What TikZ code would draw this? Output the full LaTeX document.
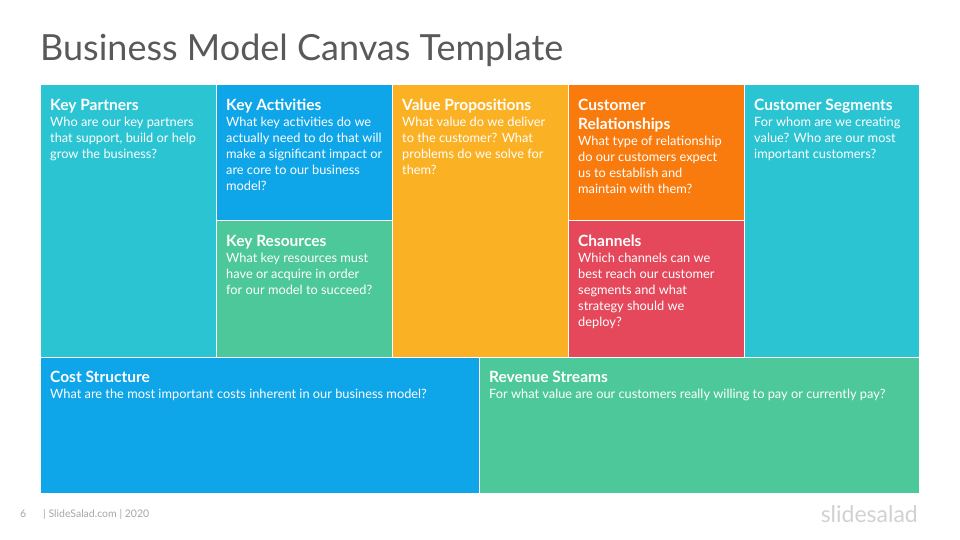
\documentclass[tikz,border=0pt]{standalone}
\usepackage{fontspec}
\setmainfont{Lato}
\definecolor{cteal}{HTML}{2BC4D2}
\definecolor{cblue}{HTML}{0EA5E9}
\definecolor{cgreen}{HTML}{4DC89A}
\definecolor{cyel}{HTML}{FBB124}
\definecolor{corange}{HTML}{F97B0E}
\definecolor{cred}{HTML}{E5485A}
\definecolor{ctitle}{HTML}{595959}
\definecolor{cgrey}{HTML}{A6A6A6}
\tikzset{
  cell/.style={draw=white, line width=1pt},
  lab/.style={anchor=north west, text=white, align=left, inner sep=0pt, font=\fontsize{12.8}{16}\selectfont},
}
\newcommand{\hf}{\fontsize{15.5}{19}\selectfont\bfseries}
\begin{document}
\begin{tikzpicture}[x=1pt,y=-1pt]
\useasboundingbox (0,0) rectangle (960,540);
\node[anchor=west, inner sep=0pt, text=ctitle, font=\fontsize{36}{38}\selectfont] (title) at (40,50) {Business Model Canvas Template};
\fill[cell,fill=cteal] (40,85) rectangle (216,357);
\fill[cell,fill=cblue] (216,85) rectangle (392,220);
\fill[cell,fill=cgreen] (216,220) rectangle (392,357);
\fill[cell,fill=cyel] (392,85) rectangle (568,357);
\fill[cell,fill=corange] (568,85) rectangle (744,220);
\fill[cell,fill=cred] (568,220) rectangle (744,357);
\fill[cell,fill=cteal] (744,85) rectangle (919,357);
\fill[cell,fill=cblue] (40,357) rectangle (479,493);
\fill[cell,fill=cgreen] (479,357) rectangle (919,493);
\draw[white,line width=1pt] (40,85) rectangle (919,493) (216,85)--(216,357) (392,85)--(392,357) (568,85)--(568,357) (744,85)--(744,357) (40,357)--(919,357) (479,357)--(479,493) (216,220)--(392,220) (568,220)--(744,220);
\node[lab] (kp) at (50,99) {{\hf Key Partners}\\Who are our key partners\\that support, build or help\\grow the business?};
\node[lab] (ka) at (226,99) {{\hf Key Activities}\\What key activities do we\\actually need to do that will\\make a significant impact or\\are core to our business\\model?};
\node[lab] (kr) at (226,235) {{\hf Key Resources}\\What key resources must\\have or acquire in order\\for our model to succeed?};
\node[lab] (vp) at (402,99) {{\hf Value Propositions}\\What value do we deliver\\to the customer? What\\problems do we solve for\\them?};
\node[lab] (cr) at (578,99) {{\hf Customer}\\[3pt]{\hf Relationships}\\What type of relationship\\do our customers expect\\us to establish and\\maintain with them?};
\node[lab] (ch) at (578,235) {{\hf Channels}\\Which channels can we\\best reach our customer\\segments and what\\strategy should we\\deploy?};
\node[lab] (cs) at (754,99) {{\hf Customer Segments}\\For whom are we creating\\value? Who are our most\\important customers?};
\node[lab] (cost) at (50,371) {{\hf Cost Structure}\\What are the most important costs inherent in our business model?};
\node[lab] (rev) at (489,371) {{\hf Revenue Streams}\\For what value are our customers really willing to pay or currently pay?};
\node[anchor=west,inner sep=0pt,text=cgrey,font=\fontsize{10.5}{12}\selectfont] (pg) at (20,514) {6};
\node[anchor=west,inner sep=0pt,text=cgrey,font=\fontsize{10.5}{12}\selectfont] (ft) at (43,514) {| SlideSalad.com | 2020};
\node[anchor=east,inner sep=0pt,text=black!18,font=\fontsize{23}{24}\selectfont] (logo) at (918,514) {slidesalad};
\end{tikzpicture}
\end{document}
